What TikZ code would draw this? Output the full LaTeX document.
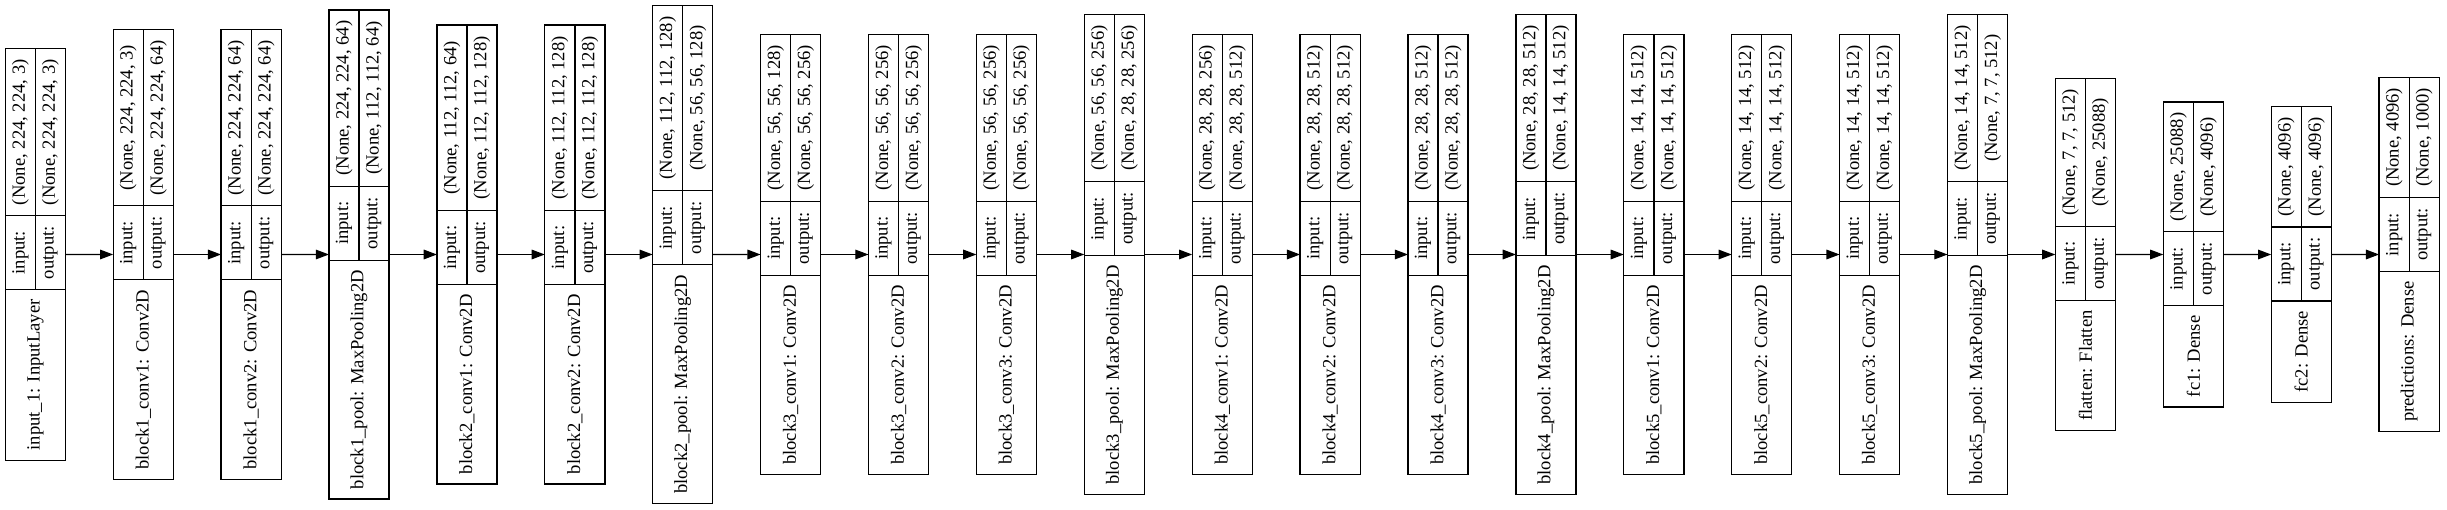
\documentclass[tikz,border=0pt]{standalone}
\usepackage{fontspec}
\setmainfont{Liberation Serif}
\usetikzlibrary{arrows.meta}
\tikzset{
  layerbox/.style={draw=black, line width=0.65pt, inner sep=0pt, outer sep=0pt, anchor=south west, minimum width=30.05pt},
  cell/.style={draw=black, line width=0.65pt},
  lbl/.style={rotate=90, inner sep=0pt, font=\fontsize{9.3}{11}\selectfont},
  arr/.style={draw=black, line width=0.65pt, -{Triangle[length=6.6pt, width=4.8pt]}}
}
% #1 id, #2 index, #3 name length, #4 shape length, #5 name, #6 in, #7 out
\newcommand{\kerasLayer}[7]{%
  \pgfmathsetmacro{\LXl}{5.3+(#2-1)*107.9}
  \pgfmathsetmacro{\LXr}{\LXl+60.1}
  \pgfmathsetmacro{\LXm}{\LXl+30.05}
  \pgfmathsetmacro{\LTot}{#3+74+#4}
  \pgfmathsetmacro{\LYt}{254.5+\LTot/2}
  \pgfmathsetmacro{\LYb}{254.5-\LTot/2}
  \pgfmathsetmacro{\LYa}{\LYt-#4}
  \pgfmathsetmacro{\LYc}{\LYa-74}
  \pgfmathsetmacro{\LHt}{\LTot*0.5}
  \node[layerbox, minimum height=\LHt pt] (#1) at (\LXl,\LYb) {};
  \draw[cell] (\LXl,\LYa) -- (\LXr,\LYa);
  \draw[cell] (\LXl,\LYc) -- (\LXr,\LYc);
  \draw[cell] (\LXm,\LYc) -- (\LXm,\LYt);
  \node[lbl] (#1-name) at (\LXm,{(\LYb+\LYc)/2}) {#5};
  \node[lbl] (#1-inl) at ({\LXl+15.03},{(\LYa+\LYc)/2}) {input:};
  \node[lbl] (#1-outl) at ({\LXl+45.08},{(\LYa+\LYc)/2}) {output:};
  \node[lbl] (#1-ins) at ({\LXl+15.03},{(\LYa+\LYt)/2}) {#6};
  \node[lbl] (#1-outs) at ({\LXl+45.08},{(\LYa+\LYt)/2}) {#7};
}
\begin{document}
\begin{tikzpicture}[x=0.5pt,y=0.5pt]
\useasboundingbox (0,0) rectangle (2447,509);
\kerasLayer{n1}{1}{170.6}{166.9}{input\_1: InputLayer}{(None, 224, 224, 3)}{(None, 224, 224, 3)}
\kerasLayer{n2}{2}{199.5}{176.2}{block1\_conv1: Conv2D}{(None, 224, 224, 3)}{(None, 224, 224, 64)}
\kerasLayer{n3}{3}{199.5}{176.2}{block1\_conv2: Conv2D}{(None, 224, 224, 64)}{(None, 224, 224, 64)}
\kerasLayer{n4}{4}{238.8}{176.2}{block1\_pool: MaxPooling2D}{(None, 224, 224, 64)}{(None, 112, 112, 64)}
\kerasLayer{n5}{5}{199.5}{185.5}{block2\_conv1: Conv2D}{(None, 112, 112, 64)}{(None, 112, 112, 128)}
\kerasLayer{n6}{6}{199.5}{185.5}{block2\_conv2: Conv2D}{(None, 112, 112, 128)}{(None, 112, 112, 128)}
\kerasLayer{n7}{7}{238.8}{185.5}{block2\_pool: MaxPooling2D}{(None, 112, 112, 128)}{(None, 56, 56, 128)}
\kerasLayer{n8}{8}{199.5}{166.9}{block3\_conv1: Conv2D}{(None, 56, 56, 128)}{(None, 56, 56, 256)}
\kerasLayer{n9}{9}{199.5}{166.9}{block3\_conv2: Conv2D}{(None, 56, 56, 256)}{(None, 56, 56, 256)}
\kerasLayer{n10}{10}{199.5}{166.9}{block3\_conv3: Conv2D}{(None, 56, 56, 256)}{(None, 56, 56, 256)}
\kerasLayer{n11}{11}{238.8}{166.9}{block3\_pool: MaxPooling2D}{(None, 56, 56, 256)}{(None, 28, 28, 256)}
\kerasLayer{n12}{12}{199.5}{166.9}{block4\_conv1: Conv2D}{(None, 28, 28, 256)}{(None, 28, 28, 512)}
\kerasLayer{n13}{13}{199.5}{166.9}{block4\_conv2: Conv2D}{(None, 28, 28, 512)}{(None, 28, 28, 512)}
\kerasLayer{n14}{14}{199.5}{166.9}{block4\_conv3: Conv2D}{(None, 28, 28, 512)}{(None, 28, 28, 512)}
\kerasLayer{n15}{15}{238.8}{166.9}{block4\_pool: MaxPooling2D}{(None, 28, 28, 512)}{(None, 14, 14, 512)}
\kerasLayer{n16}{16}{199.5}{166.9}{block5\_conv1: Conv2D}{(None, 14, 14, 512)}{(None, 14, 14, 512)}
\kerasLayer{n17}{17}{199.5}{166.9}{block5\_conv2: Conv2D}{(None, 14, 14, 512)}{(None, 14, 14, 512)}
\kerasLayer{n18}{18}{199.5}{166.9}{block5\_conv3: Conv2D}{(None, 14, 14, 512)}{(None, 14, 14, 512)}
\kerasLayer{n19}{19}{238.8}{166.9}{block5\_pool: MaxPooling2D}{(None, 14, 14, 512)}{(None, 7, 7, 512)}
\kerasLayer{n20}{20}{130.3}{148.3}{flatten: Flatten}{(None, 7, 7, 512)}{(None, 25088)}
\kerasLayer{n21}{21}{101.3}{129.7}{fc1: Dense}{(None, 25088)}{(None, 4096)}
\kerasLayer{n22}{22}{101.3}{120.4}{fc2: Dense}{(None, 4096)}{(None, 4096)}
\kerasLayer{n23}{23}{160.2}{120.4}{predictions: Dense}{(None, 4096)}{(None, 1000)}
\foreach \a/\b in {n1/n2,n2/n3,n3/n4,n4/n5,n5/n6,n6/n7,n7/n8,n8/n9,n9/n10,n10/n11,n11/n12,n12/n13,n13/n14,n14/n15,n15/n16,n16/n17,n17/n18,n18/n19,n19/n20,n20/n21,n21/n22,n22/n23}
  \draw[arr] (\a.east) -- (\b.west);
\end{tikzpicture}
\end{document}
